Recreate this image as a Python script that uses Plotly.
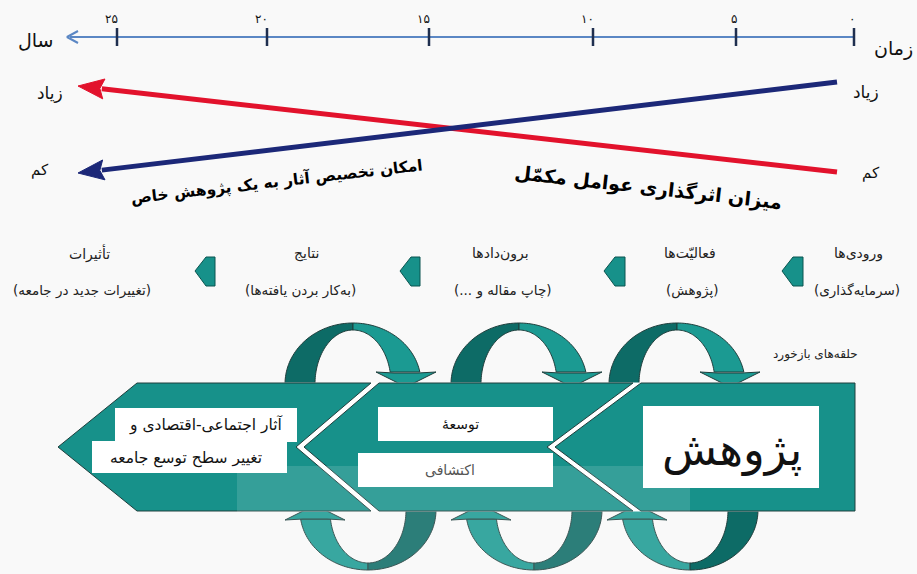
import numpy as np
import plotly.graph_objects as go

# ---------------- data ----------------
years = [0, 5, 10, 15, 20, 25]
year_labels = ["۰", "۵", "۱۰", "۱۵", "۲۰", "۲۵"]
axis_labels = ["زمان", "سال"]
level_labels = ["زیاد", "کم"]
trend_names = ["میزان اثرگذاری عوامل مکمّل", "امکان تخصیص آثار به یک پژوهش خاص"]
red_levels = [0, 1]    # low at start -> high at end
blue_levels = [1, 0]   # high at start -> low at end
flow_titles = ["ورودی‌ها", "فعالیّت‌ها", "برون‌دادها", "نتایج", "تأثیرات"]
flow_notes = ["(سرمایه‌گذاری)", "(پژوهش)", "(چاپ مقاله و ...)",
              "(به‌کار بردن یافته‌ها)", "(تغییرات جدید در جامعه)"]
stage_main = "پژوهش"
stage_mid = ["توسعهٔ", "اکتشافی"]
stage_end = ["آثار اجتماعی-اقتصادی و", "تغییر سطح توسع جامعه"]
loop_label = "حلقه‌های بازخورد"

# ---------------- layout constants ----------------
W, H = 917, 574
FONT = "DejaVu Sans"
TICK_X = [854, 736, 593, 429, 267, 117]
AXIS_Y = 37
TREND_X = [837, 78]          # start (time 0) , end
LEVEL_Y = {0: 172, 1: 85}
FLOW_TITLE_X = [858, 690, 500, 306, 89]
FLOW_NOTE_X = [857, 692, 503, 300, 82]
ARROW_X = [(782, 803), (604, 625), (400, 420), (195, 215)]
TEAL = "#17918a"
TEAL_D = "#0d6b66"
TEAL_L = "#1b9a92"
EDGE = "#1f3e3c"
BG = "#f9f9f9"

def rtl(s):
    return "\u200f" + s + "\u200f"

fig = go.Figure()
shapes = []
ann = []

def poly_path(pts):
    return "M " + " L ".join(f"{x:.2f},{y:.2f}" for x, y in pts) + " Z"

def add_poly(pts, fill, line=EDGE, lw=1, opacity=1):
    shapes.append(dict(type="path", path=poly_path(pts), xref="x", yref="y",
                       fillcolor=fill, line=dict(color=line, width=lw), opacity=opacity))

def arc(cx, cy, rx, ry, t0, t1, n=40):
    t = np.linspace(t0, t1, n)
    return list(zip(cx + rx * np.cos(t), cy - ry * np.sin(t)))

# ---------------- loops (behind the bar) ----------------
BAR_T, BAR_B = 383, 511
RXO, RXI, RYO, RYI = 68, 38, 60, 53
for cx in [353, 519, 677]:
    e_o = np.arcsin(11 / RYO)
    e_i = np.arcsin(11 / RYI)
    add_poly(arc(cx, BAR_T + 1, RXO, RYO + 1, np.pi, np.pi / 2) +
             arc(cx, BAR_T + 1, RXI, RYI + 1, np.pi / 2, np.pi), TEAL_D)
    add_poly(arc(cx, BAR_T, RXO, RYO, np.pi / 2, e_o) +
             arc(cx, BAR_T, RXI, RYI, e_i, np.pi / 2), TEAL_L)
    c = cx + 53
    add_poly([(c - 30, 372), (c - 12, 373), (c + 12, 373), (c + 30, 372), (c, 387)], TEAL_L)

RYO2, RYI2 = 59, 52
for cx in [368, 534, 690]:
    e_o = np.arcsin(8 / RYO2)
    e_i = np.arcsin(8 / RYI2)
    add_poly(arc(cx, BAR_B, RXO, RYO2, np.pi + e_o, 1.5 * np.pi) +
             arc(cx, BAR_B, RXI, RYI2, 1.5 * np.pi, np.pi + e_i), TEAL_L)
    add_poly(arc(cx, BAR_B - 1, RXO, RYO2 + 1, 1.5 * np.pi, 2 * np.pi) +
             arc(cx, BAR_B - 1, RXI, RYI2 + 1, 2 * np.pi, 1.5 * np.pi), TEAL_D)
    c = cx - 53
    add_poly([(c - 30, 520), (c - 12, 519), (c + 12, 519), (c + 30, 520), (c, 505)], TEAL_L)

# ---------------- chevron bar ----------------
MID = (BAR_T + BAR_B) / 2
g1_top, g1_mid = 375, 300
g2_top, g2_mid = 637, 551
gh = 4
add_poly([(58, MID), (137, BAR_T), (855, BAR_T), (855, BAR_B), (137, BAR_B)], "#ffffff", line="#ffffff")
add_poly([(58, MID), (137, BAR_T), (g1_top - gh, BAR_T), (g1_mid - gh, MID),
          (g1_top - gh, BAR_B), (137, BAR_B)], TEAL)
add_poly([(g1_top + gh, BAR_T), (g2_top - gh, BAR_T), (g2_mid - gh, MID),
          (g2_top - gh, BAR_B), (g1_top + gh, BAR_B), (g1_mid + gh, MID)], TEAL)
add_poly([(g2_top + gh, BAR_T), (855, BAR_T), (855, BAR_B), (g2_top + gh, BAR_B),
          (g2_mid + gh, MID)], TEAL)

def rect(x0, y0, x1, y1, fill="#ffffff"):
    shapes.append(dict(type="rect", x0=x0, x1=x1, y0=y0, y1=y1, xref="x", yref="y",
                       fillcolor=fill, line=dict(width=0)))

rect(643, 406, 819, 488)
rect(378, 407, 553, 441)
rect(358, 453, 553, 487)
rect(115, 408, 297, 442)
rect(92, 441, 287, 473)
rect(237, 466, 690, 574, fill="rgba(255,255,255,0.13)")

ann.append(dict(x=732, y=450, text=rtl(stage_main), font=dict(size=45, family=FONT, color="#111")))
ann.append(dict(x=460, y=424, text=rtl(stage_mid[0]), font=dict(size=14, family=FONT, color="#111")))
ann.append(dict(x=450, y=470, text=rtl(stage_mid[1]), font=dict(size=14, family=FONT, color="#555")))
ann.append(dict(x=205, y=425, text=rtl(stage_end[0]), font=dict(size=15.5, family=FONT, color="#111")))
ann.append(dict(x=186, y=458, text=rtl(stage_end[1]), font=dict(size=15.5, family=FONT, color="#111")))
ann.append(dict(x=815, y=354, text=rtl(loop_label), font=dict(size=12, family=FONT, color="#222")))

# ---------------- flow row ----------------
for (x0, x1) in ARROW_X:
    add_poly([(x0, 271), (x0 + 11, 257), (x1, 257), (x1, 286), (x0 + 11, 286)], TEAL, line="#0b5550", lw=1)
for xt, xn, t, n in zip(FLOW_TITLE_X, FLOW_NOTE_X, flow_titles, flow_notes):
    ann.append(dict(x=xt, y=253, text=rtl(t), font=dict(size=14, family=FONT, color="#222")))
    ann.append(dict(x=xn, y=290, text=rtl(n), font=dict(size=13.5, family=FONT, color="#222")))

# ---------------- timeline ----------------
fig.add_trace(go.Scatter(x=[TICK_X[0], 70], y=[AXIS_Y, AXIS_Y], mode="lines",
                         line=dict(color="#5b87c4", width=2), hoverinfo="skip"))
fig.add_trace(go.Scatter(x=[78, 67, 78], y=[31, AXIS_Y, 43], mode="lines",
                         line=dict(color="#5b87c4", width=2), hoverinfo="skip"))
tx, ty = [], []
for i, yv in enumerate(years):
    x = TICK_X[i]
    tx += [x, x, None]
    ty += [28, 46, None]
fig.add_trace(go.Scatter(x=tx, y=ty, mode="lines", line=dict(color="#1f2f4f", width=2.5),
                         hoverinfo="skip"))
for i, lab in enumerate(year_labels):
    ann.append(dict(x=TICK_X[i] + 3, y=19, text=lab, xanchor="right",
                    font=dict(size=12, family=FONT, color="#111")))
ann.append(dict(x=893, y=48, text=rtl(axis_labels[0]), font=dict(size=19, family=FONT, color="#111")))
ann.append(dict(x=36, y=40, text=rtl(axis_labels[1]), font=dict(size=19, family=FONT, color="#111")))

# ---------------- trend lines ----------------
def trend(levels, color, width):
    xs = TREND_X
    ys = [LEVEL_Y[levels[0]] + (-3 if levels[0] == 1 else 0), LEVEL_Y[levels[1]] + 1]
    p0 = np.array([xs[0], ys[0]], float)
    p1 = np.array([xs[1], ys[1]], float)
    u = (p1 - p0) / np.linalg.norm(p1 - p0)
    nrm = np.array([-u[1], u[0]])
    L, hw = 26, 10
    base = p1 - u * L
    fig.add_trace(go.Scatter(x=[p0[0], base[0] + u[0] * 2], y=[p0[1], base[1] + u[1] * 2],
                             mode="lines", line=dict(color=color, width=width), hoverinfo="skip"))
    add_poly([tuple(p1), tuple(base + nrm * hw), tuple(base + u * 4), tuple(base - nrm * hw)],
             color, line=color, lw=1)

trend(red_levels, "#e2122c", 5)
trend(blue_levels, "#1c2878", 5)

ann.append(dict(x=50, y=93, text=rtl(level_labels[0]), font=dict(size=17, family=FONT, color="#111")))
ann.append(dict(x=40, y=170, text=rtl(level_labels[1]), font=dict(size=15, family=FONT, color="#111")))
ann.append(dict(x=866, y=92, text=rtl(level_labels[0]), font=dict(size=17, family=FONT, color="#111")))
ann.append(dict(x=871, y=173, text=rtl(level_labels[1]), font=dict(size=15, family=FONT, color="#111")))

ann.append(dict(x=648, y=187, text="<b>" + rtl(trend_names[0]) + "</b>", textangle=6.5,
                font=dict(size=19, family=FONT, color="#000")))
ann.append(dict(x=276, y=182, text="<b>" + rtl(trend_names[1]) + "</b>", textangle=-6.5,
                font=dict(size=15.5, family=FONT, color="#000")))

for a in ann:
    a.setdefault("showarrow", False)
    a.setdefault("xref", "x")
    a.setdefault("yref", "y")
    a.setdefault("xanchor", "center")
    a.setdefault("yanchor", "middle")

fig.update_layout(
    width=W, height=H, margin=dict(l=0, r=0, t=0, b=0),
    paper_bgcolor=BG, plot_bgcolor=BG,
    showlegend=False, shapes=shapes, annotations=ann,
    xaxis=dict(range=[0, W], visible=False, fixedrange=True),
    yaxis=dict(range=[H, 0], visible=False, fixedrange=True),
)
fig.write_html("out.html", config={"displayModeBar": False},
               post_script="document.body.style.margin='0';document.body.style.overflow='hidden';"
                           "document.body.style.background='" + BG + "';")
